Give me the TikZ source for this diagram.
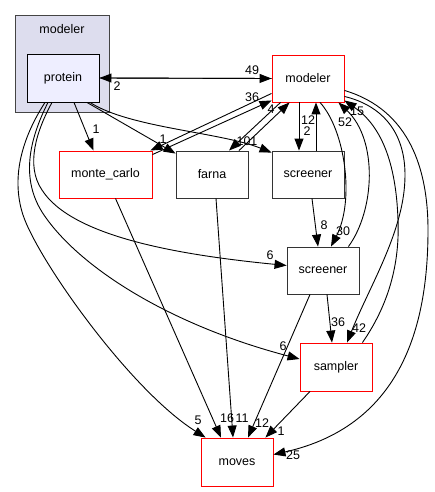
\documentclass[tikz,border=0pt]{standalone}
\usepackage{fontspec}
\setmainfont{Liberation Sans}
\usetikzlibrary{arrows.meta,calc}
\definecolor{clfill}{HTML}{DDDDEE}
\definecolor{pfill}{HTML}{EEEEFF}
\definecolor{clborder}{HTML}{444444}
\tikzset{
 dirbox/.style={draw=black, fill=white, minimum width=72pt, minimum height=47pt, inner sep=0pt, line width=0.9pt, font=\fontsize{12.5}{14}\selectfont},
 reddir/.style={dirbox, draw=red},
 blackdir/.style={dirbox, draw=black!80},
 arr/.style={-{Triangle[length=12pt,width=9pt]}, line width=0.9pt, black},
 lbl/.style={inner sep=0pt, font=\fontsize{12.5}{14}\selectfont},
}
\begin{document}
\begin{tikzpicture}[x=1pt,y=-1pt]
\useasboundingbox (0,0) rectangle (435,492);
% cluster
\node[draw=clborder, fill=clfill, minimum width=94pt, minimum height=97pt, inner sep=0pt, line width=0.9pt] (cl) at (62,63.5) {};
\node[lbl] (cllbl) at (62,29) {modeler};
\node[dirbox, fill=pfill, minimum height=48pt] (protein) at (63,78) {protein};
% nodes
\node[reddir] (modeler) at (308,78.5) {modeler};
\node[reddir, minimum width=93pt] (monte) at (105.5,174.5) {monte\_carlo};
\node[blackdir] (farna) at (212,174.5) {farna};
\node[blackdir] (scrA) at (308,174.5) {screener};
\node[blackdir] (scrB) at (323,270.5) {screener};
\node[reddir, minimum height=48pt] (sampler) at (336,367) {sampler};
\node[reddir, minimum height=48pt] (moves) at (237,462) {moves};
% edges
\draw[arr] (protein.east) -- (modeler.west);
\draw[arr] (modeler.west) -- (protein.east);
\draw[arr] ([xshift=11pt]protein.south) -- ([xshift=-12pt]monte.north);
\draw[arr] ([xshift=24pt]protein.south) -- ([yshift=-3pt]farna.north west);
\draw[arr] ([xshift=27pt]protein.south) .. controls (130,128) and (220,132) .. ([yshift=-2pt]scrA.north west);
\draw[arr] ([yshift=-4pt]monte.north east) -- ([yshift=2pt]modeler.south west);
\draw[arr] ([yshift=9pt]modeler.south west) -- ([xshift=-2pt]monte.north east);
\draw[arr] ([xshift=9pt]modeler.south west) -- ([xshift=17pt]farna.north);
\draw[arr] ([xshift=27pt]farna.north) -- ([xshift=18pt]modeler.south west);
\draw[arr] ([xshift=-9pt]modeler.south) -- ([xshift=-9pt]scrA.north);
\draw[arr] ([xshift=8pt]scrA.north) -- ([xshift=8pt]modeler.south);
\draw[arr] ([xshift=12pt]modeler.south) .. controls (345,130) and (355,200) .. ([xshift=8pt]scrB.north);
\draw[arr] ([xshift=4pt]scrA.south) -- ([xshift=-5pt]scrB.north);
\draw[arr] ([xshift=-11pt]scrB.north east) .. controls (375,210) and (378,140) .. ([xshift=-6pt]modeler.south east);
\draw[arr] ([xshift=-10pt]sampler.north east) .. controls (385,310) and (400,270) .. (398,220) .. controls (396,160) and (380,125) .. ([yshift=2pt]modeler.south east);
\draw[arr] ([yshift=6pt]modeler.south east) .. controls (380,105) and (405,130) .. (405,175) .. controls (405,230) and (370,285) .. ([xshift=11pt]sampler.north);
\draw[arr] ([yshift=12pt]modeler.south east) .. controls (410,110) and (428,170) .. (428,230) .. controls (428,320) and (405,425) .. ([yshift=-17pt]moves.north east);
\draw[arr] ([xshift=4pt]scrB.south) -- ([xshift=-4pt]sampler.north);
\draw[arr] ([xshift=-13pt]scrB.south) -- ([xshift=11pt]moves.north);
\draw[arr] ([xshift=-26pt]sampler.south) -- ([xshift=-8pt]moves.north east);
\draw[arr] ([xshift=4pt]farna.south) -- ([xshift=-4pt]moves.north);
\draw[arr] ([xshift=10pt]monte.south) -- ([xshift=-16pt]moves.north);
\draw[arr] ([xshift=-18pt]protein.south) .. controls (24,135) and (10,175) .. (23,215) .. controls (38,260) and (130,390) .. ([xshift=5pt]moves.north west);
\draw[arr] ([xshift=-15pt]protein.south) .. controls (29,140) and (20,180) .. (44,215) .. controls (80,268) and (170,325) .. ([yshift=8pt]sampler.west);
\draw[arr] ([xshift=-11pt]protein.south) .. controls (37,130) and (25,165) .. (42,190) .. controls (72,237) and (180,255) .. ([yshift=5pt]scrB.west);
% labels
\node[lbl] (l49) at (252,70) {49};
\node[lbl] (l2a) at (117,86) {2};
\node[lbl] (l1a) at (96,129) {1};
\node[lbl] (l1b) at (163,139) {1};
\node[lbl] (l36a) at (252,97) {36};
\node[lbl] (l4) at (271,109) {4};
\node[lbl] (l101) at (247,141) {101};
\node[lbl] (l12a) at (308,120) {12};
\node[lbl] (l2b) at (307,131) {2};
\node[lbl] (l52) at (345,122) {52};
\node[lbl] (l15) at (357,111) {15};
\node[lbl] (l30) at (343,231) {30};
\node[lbl] (l8) at (324,225) {8};
\node[lbl] (l6a) at (270,255) {6};
\node[lbl] (l36b) at (338,322) {36};
\node[lbl] (l42) at (359,328) {42};
\node[lbl] (l6b) at (283,346) {6};
\node[lbl] (l5) at (198,420) {5};
\node[lbl] (l16) at (227,418) {16};
\node[lbl] (l11) at (242,418) {11};
\node[lbl] (l12b) at (262,423) {12};
\node[lbl] (l1c) at (281,431) {1};
\node[lbl] (l25) at (293,455) {25};
\end{tikzpicture}
\end{document}
